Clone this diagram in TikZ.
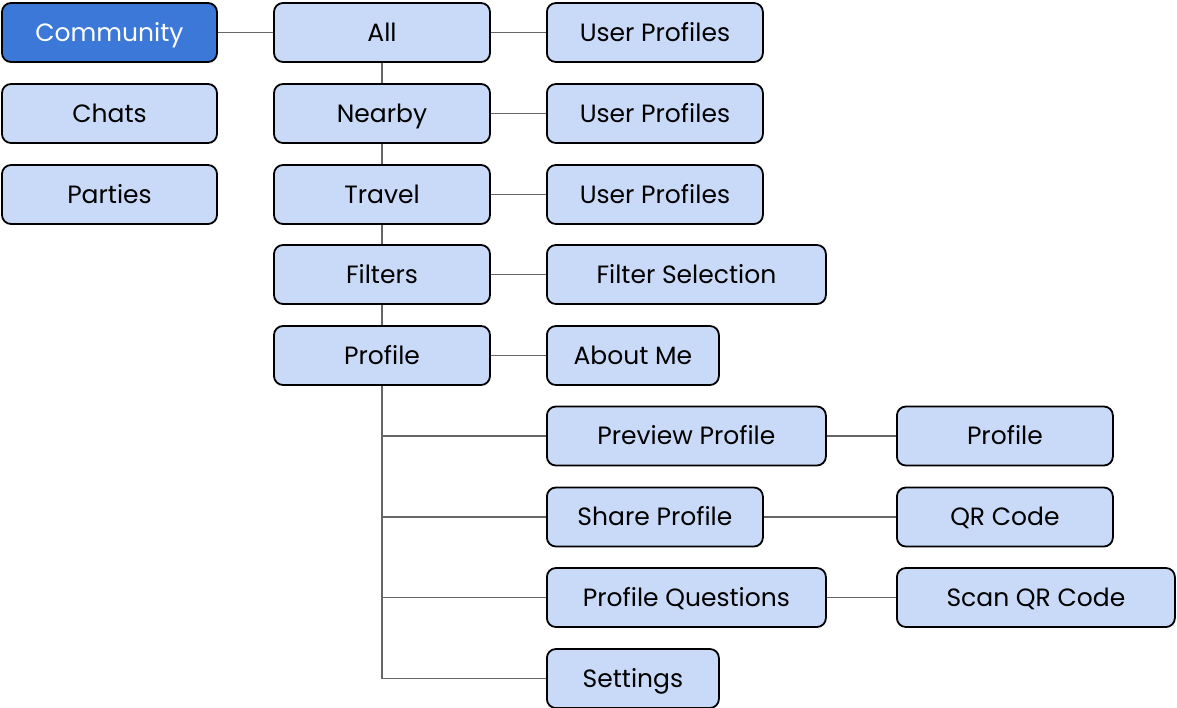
\documentclass[tikz,border=0pt]{standalone}
\usepackage{fontspec}
\setmainfont{Poppins}
\begin{document}
\begin{tikzpicture}[x=1pt,y=-1pt,
  box/.style={draw=black,line width=1.8pt,rounded corners=9pt,fill=boxblue,minimum height=59pt,inner sep=0pt,font=\fontsize{25}{28}\selectfont,text=black,text height=17.5pt,text depth=0pt},
  hot/.style={box,fill=hotblue,text=white},
  link/.style={draw=linegray,line width=1.8pt}]
\definecolor{boxblue}{HTML}{C9DAF8}
\definecolor{hotblue}{HTML}{3C78D8}
\definecolor{linegray}{HTML}{666666}
\useasboundingbox (0,0) rectangle (1177,707);
% column 1
\node[hot,minimum width=215pt] (community) at (109.5,32.5) {Community};
\node[box,minimum width=215pt] (chats) at (109.5,113.5) {Chats};
\node[box,minimum width=215pt] (parties) at (109.5,194.5) {Parties};
% column 2
\node[box,minimum width=216pt] (all) at (382,32.5) {All};
\node[box,minimum width=216pt] (nearby) at (382,113.5) {Nearby};
\node[box,minimum width=216pt] (travel) at (382,194.5) {Travel};
\node[box,minimum width=216pt] (filters) at (382,274.5) {Filters};
\node[box,minimum width=216pt] (profile) at (382,355.5) {Profile};
% column 3
\node[box,minimum width=216pt,anchor=west] (up1) at (546,32.5) {User Profiles};
\node[box,minimum width=216pt,anchor=west] (up2) at (546,113.5) {User Profiles};
\node[box,minimum width=216pt,anchor=west] (up3) at (546,194.5) {User Profiles};
\node[box,minimum width=279pt,anchor=west] (fsel) at (546,274.5) {Filter Selection};
\node[box,minimum width=172pt,anchor=west] (about) at (546,355.5) {About Me};
\node[box,minimum width=279pt,anchor=west] (preview) at (546,436) {Preview Profile};
\node[box,minimum width=216pt,anchor=west] (share) at (546,517) {Share Profile};
\node[box,minimum width=279pt,anchor=west] (questions) at (546,597.5) {Profile Questions};
\node[box,minimum width=172pt,anchor=west] (settings) at (546,678.5) {Settings};
% column 4
\node[box,minimum width=216pt,anchor=west] (prof2) at (896,436) {Profile};
\node[box,minimum width=216pt,anchor=west] (qr) at (896,517) {QR Code};
\node[box,minimum width=278pt,anchor=west] (scan) at (896,597.5) {Scan QR Code};
% connectors
\draw[link] (community) -- (all);
\draw[link] (all) -- (up1);
\draw[link] (nearby) -- (up2);
\draw[link] (travel) -- (up3);
\draw[link] (filters) -- (fsel);
\draw[link] (profile) -- (about);
\draw[link] (preview) -- (prof2);
\draw[link] (share) -- (qr);
\draw[link] (questions) -- (scan);
\draw[link] (all) -- (nearby);
\draw[link] (nearby) -- (travel);
\draw[link] (travel) -- (filters);
\draw[link] (filters) -- (profile);
\draw[link] (profile.south) |- (settings.west);
\draw[link] (profile.south) |- (preview.west);
\draw[link] (profile.south) |- (share.west);
\draw[link] (profile.south) |- (questions.west);
\end{tikzpicture}
\end{document}
